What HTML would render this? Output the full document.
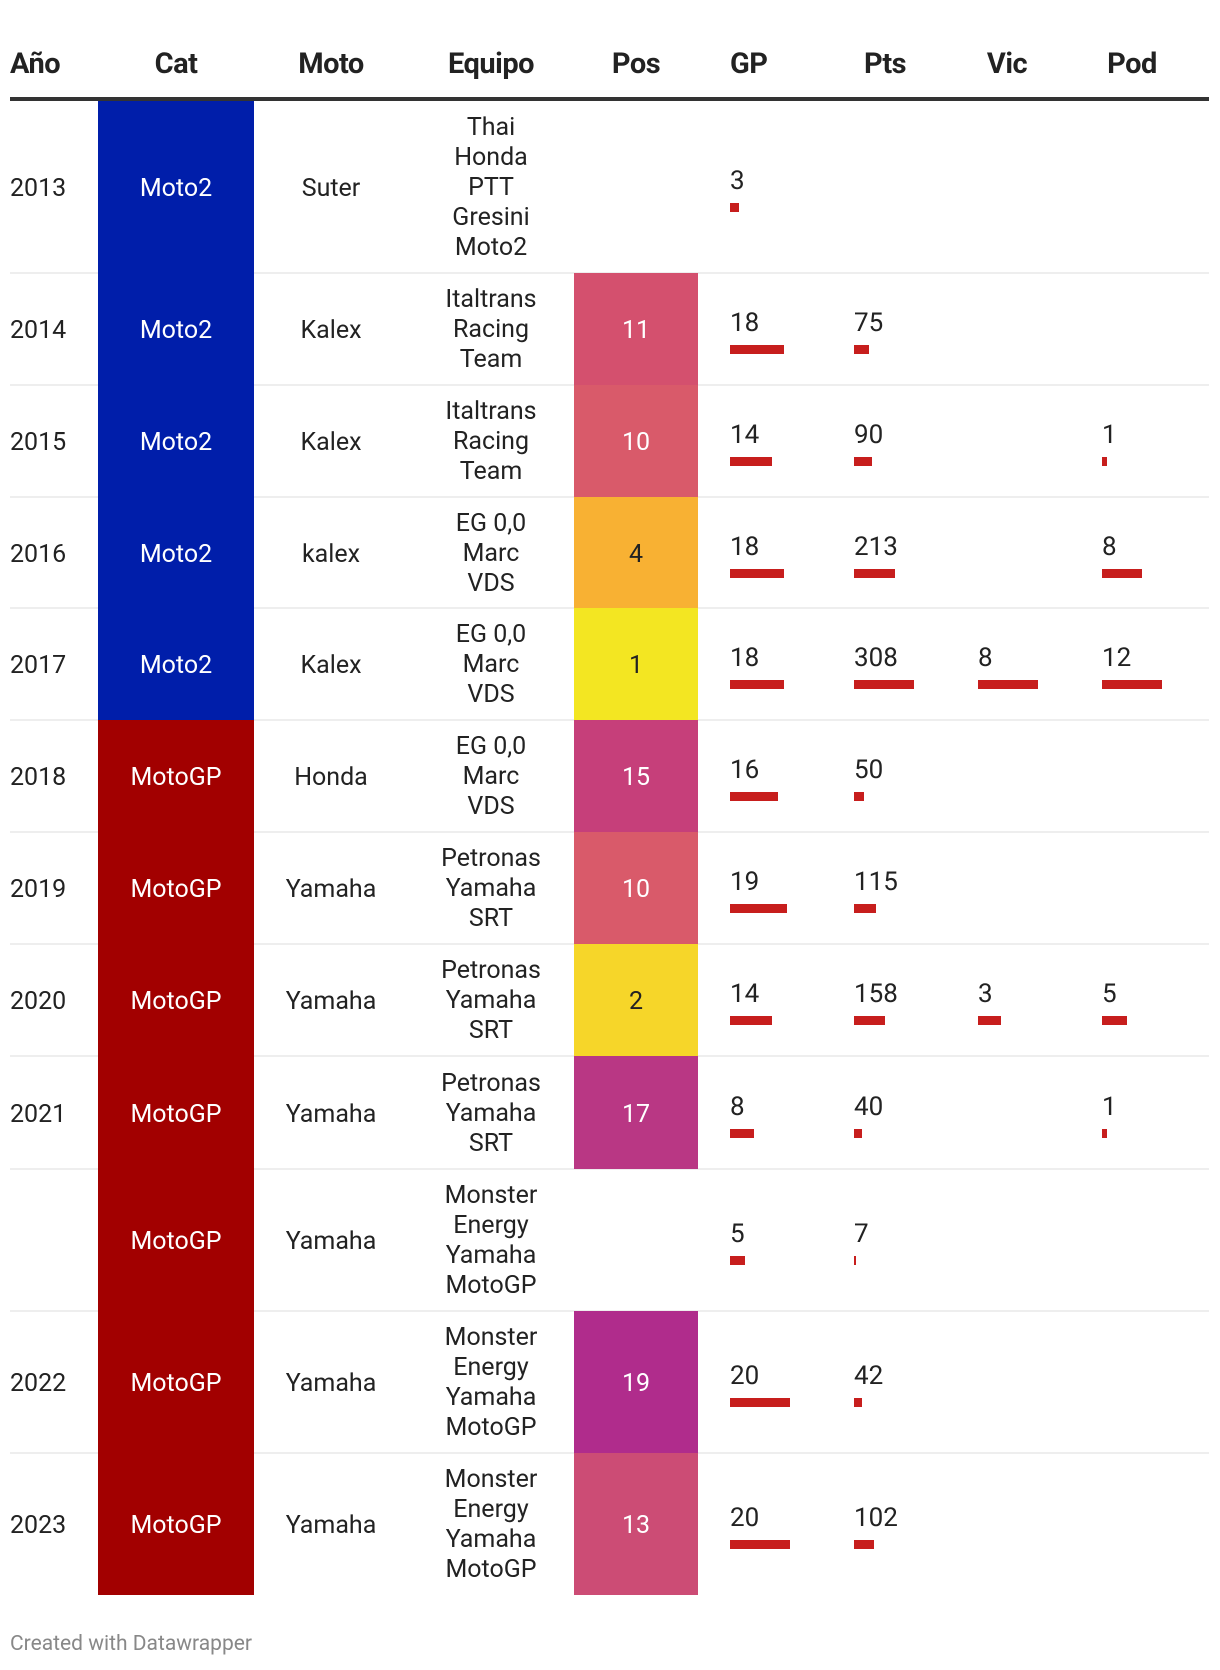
<!DOCTYPE html>
<html><head><meta charset="utf-8">
<style>
body{margin:0;background:#fff;font-family:"Roboto","Liberation Sans",sans-serif;}
#wrap{position:relative;width:1220px;height:1670px;overflow:hidden;}
.h{position:absolute;top:47px;font-weight:bold;font-size:29px;color:#222;letter-spacing:-0.5px;}
</style></head><body>
<div id="wrap">
<div class="h" style="left:10px">Año</div>
<div class="h" style="left:98px;width:156px;text-align:center">Cat</div>
<div class="h" style="left:271px;width:120px;text-align:center">Moto</div>
<div class="h" style="left:421px;width:140px;text-align:center">Equipo</div>
<div class="h" style="left:574px;width:124px;text-align:center">Pos</div>
<div class="h" style="left:730px">GP</div>
<div class="h" style="left:830px;width:110px;text-align:center">Pts</div>
<div class="h" style="left:977px;width:60px;text-align:center">Vic</div>
<div class="h" style="left:1102px;width:60px;text-align:center">Pod</div>
<div style="position:absolute;left:10px;top:97px;width:1199px;height:4px;background:#333"></div>
<div style="position:absolute;left:10px;top:1632px;font-size:21px;color:#888">Created with Datawrapper</div>
</div>
<script>
const years=["2013","2014","2015","2016","2017","2018","2019","2020","2021","","2022","2023"];
const cats=["Moto2","Moto2","Moto2","Moto2","Moto2","MotoGP","MotoGP","MotoGP","MotoGP","MotoGP","MotoGP","MotoGP"];
const motos=["Suter","Kalex","Kalex","kalex","Kalex","Honda","Yamaha","Yamaha","Yamaha","Yamaha","Yamaha","Yamaha"];
const teams=[["Thai","Honda","PTT","Gresini","Moto2"],["Italtrans","Racing","Team"],["Italtrans","Racing","Team"],["EG 0,0","Marc","VDS"],["EG 0,0","Marc","VDS"],["EG 0,0","Marc","VDS"],["Petronas","Yamaha","SRT"],["Petronas","Yamaha","SRT"],["Petronas","Yamaha","SRT"],["Monster","Energy","Yamaha","MotoGP"],["Monster","Energy","Yamaha","MotoGP"],["Monster","Energy","Yamaha","MotoGP"]];
const pos=[null,11,10,4,1,15,10,2,17,null,19,13];
const gp=[3,18,14,18,18,16,19,14,8,5,20,20];
const pts=[null,75,90,213,308,50,115,158,40,7,42,102];
const vic=[null,null,null,null,8,null,null,3,null,null,null,null];
const pod=[null,null,1,8,12,null,null,5,1,null,null,null];
const rowTops=[101,273,385,497,608,720,832,944,1056,1169,1311,1453,1595];
const posColor={1:"#f3e622",2:"#f6d629",4:"#f8b133",10:"#d95a6a",11:"#d4506e",13:"#cc4c75",15:"#c63f7a",17:"#b93784",19:"#b02c8c"};
const catColor={"Moto2":"#001eaa","MotoGP":"#a20000"};
const W=document.getElementById('wrap');
function mk(css,txt){const d=document.createElement('div');d.style.cssText=css;if(txt!=null)d.textContent=txt;W.appendChild(d);return d;}
const gpX=v=>v*3, ptsX=v=>v*60/308, vicX=v=>v*60/8, podX=v=>v*60/12;
for(let i=0;i<years.length;i++){
 const t=rowTops[i],b=rowTops[i+1],h=b-t,c=(t+b)/2;
 if(i<years.length-1){const s=mk(`position:absolute;left:10px;top:${b-1}px;width:1199px;height:2px;background:#eee`);
 
 }
 const cb=mk(`position:absolute;left:98px;top:${t}px;width:156px;height:${h}px;background:${catColor[cats[i]]}`);
 
 
 if(pos[i]!=null){const p=mk(`position:absolute;left:574px;top:${t}px;width:124px;height:${h}px;background:${posColor[pos[i]]}`);
 
 
 const dark=pos[i]<=4;
 const pt=mk(`position:absolute;left:574px;width:124px;top:${c-13}px;font-size:25px;color:${dark?'#222':'#fff'};text-align:center;line-height:30px`,String(pos[i]));
 
 }
 const y=mk(`position:absolute;left:10px;top:${c-13}px;font-size:25px;color:#222;line-height:30px`,years[i]);
 
 
 const ct=mk(`position:absolute;left:98px;width:156px;top:${c-13}px;font-size:25px;color:#fff;text-align:center;line-height:30px`,cats[i]);
 
 
 const mo=mk(`position:absolute;left:256px;width:150px;top:${c-13}px;font-size:25px;color:#222;text-align:center;line-height:30px`,motos[i]);
 
 
 const n=teams[i].length;
 const tm=mk(`position:absolute;left:411px;width:160px;top:${c-n*15+1}px;font-size:25px;color:#222;text-align:center;line-height:30px`);
 tm.innerHTML=teams[i].join('<br>');
 
 
 const cols=[[gp,730,gpX,'gp'],[pts,854,ptsX,'pts'],[vic,978,vicX,'vic'],[pod,1102,podX,'pod']];
 for(const [arr,x,fx,nm] of cols){
  const v=arr[i]; if(v==null) continue;
  const tx=mk(`position:absolute;left:${x}px;top:${c-21}px;font-size:26px;color:#222;line-height:30px`,String(v));
  
  
  const br=mk(`position:absolute;left:${x}px;top:${c+16}px;width:${Math.max(2,fx(v))}px;height:9px;background:#c71e1d`);
  
  
 }
}
</script>
</body></html>
